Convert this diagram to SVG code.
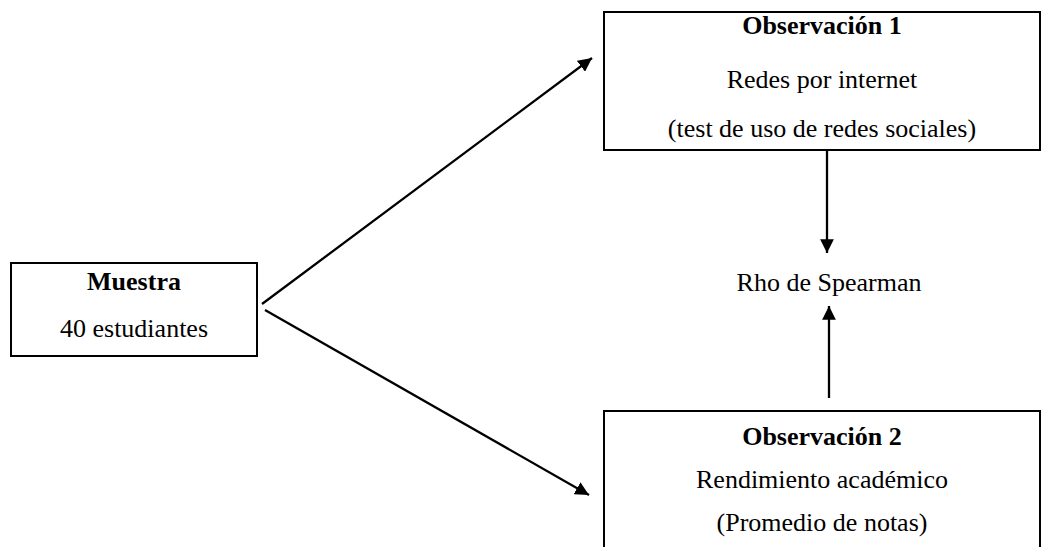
<svg xmlns="http://www.w3.org/2000/svg" width="1044" height="547" viewBox="0 0 1044 547">
<style>
.box{fill:#fff;stroke:#000;stroke-width:2}
.t{font-family:"Liberation Serif","Times New Roman",serif;font-size:26px;fill:#000;text-anchor:middle}
.b{font-weight:bold}
.c{stroke:#000;stroke-width:2.3}
</style>
<defs>
<marker id="ah" viewBox="0 0 10 10" refX="10" refY="5" markerWidth="6" markerHeight="6" markerUnits="strokeWidth" orient="auto">
<path d="M0,0 L10,5 L0,10 z" fill="#000"/>
</marker>
</defs>
<rect width="1044" height="547" fill="#fff"/>
<g id="muestra">
<rect class="box" x="11" y="263" width="246" height="93"/>
<text class="t b" x="134" y="290">Muestra</text>
<text class="t" x="134" y="337">40 estudiantes</text>
</g>
<g id="obs1">
<rect class="box" x="604" y="12" width="436" height="138"/>
<text class="t b" x="822" y="34">Observación 1</text>
<text class="t" x="822" y="88">Redes por internet</text>
<text class="t" x="822" y="137">(test de uso de redes sociales)</text>
</g>
<g id="rho">
<text class="t" x="829" y="291">Rho de Spearman</text>
</g>
<g id="obs2">
<rect class="box" x="604" y="411" width="436" height="150"/>
<text class="t b" x="822" y="445">Observación 2</text>
<text class="t" x="822" y="488">Rendimiento académico</text>
<text class="t" x="822" y="531">(Promedio de notas)</text>
</g>
<g id="connectors">
<line class="c" x1="262" y1="304" x2="592" y2="58" marker-end="url(#ah)"/>
<line class="c" x1="265" y1="310" x2="589" y2="495" marker-end="url(#ah)"/>
<line class="c" x1="827" y1="151" x2="827" y2="253" marker-end="url(#ah)"/>
<line class="c" x1="829" y1="398" x2="829" y2="306" marker-end="url(#ah)"/>
</g>
</svg>
